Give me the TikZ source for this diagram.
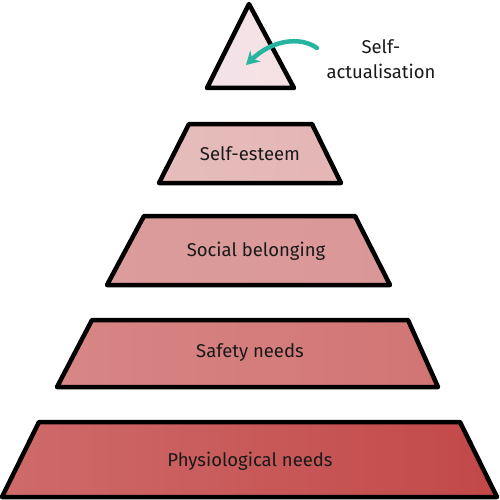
\documentclass[tikz,border=0pt]{standalone}
\usepackage{fontspec}
\setmainfont{Fira Sans}
\usetikzlibrary{arrows.meta}
\definecolor{tealarrow}{HTML}{27B59F}
\definecolor{c0a}{HTML}{F2E4EA}\definecolor{c0b}{HTML}{F8E8EA}\definecolor{c0c}{HTML}{F6E0E2}
\definecolor{c1a}{HTML}{E6BDBC}\definecolor{c1b}{HTML}{ECC8C6}\definecolor{c1c}{HTML}{E4B6B5}
\definecolor{c2a}{HTML}{DC9C9C}\definecolor{c2b}{HTML}{E4ABAA}\definecolor{c2c}{HTML}{DA9797}
\definecolor{c3a}{HTML}{D88686}\definecolor{c3b}{HTML}{DC8E8E}\definecolor{c3c}{HTML}{D27474}
\definecolor{c4a}{HTML}{CF6B6B}\definecolor{c4b}{HTML}{D77A7A}\definecolor{c4c}{HTML}{C24848}
\tikzset{
  level/.style={draw=black, line width=4.5pt, line join=round},
  lbl/.style={font=\fontsize{18.5}{25}\selectfont, text=black!90, inner sep=0pt},
}
\begin{document}
\begin{tikzpicture}[x=1pt,y=-1pt]
\useasboundingbox (0,0) rectangle (500,500);
\path[level, left color=c0a, middle color=c0b, right color=c0c] (249,4) -- (294,88) -- (207,88) -- cycle;
\path[level, left color=c1a, middle color=c1b, right color=c1c] (189,124) -- (312,124) -- (341,183) -- (159,183) -- cycle;
\path[level, left color=c2a, middle color=c2b, right color=c2c] (144,216) -- (355,216) -- (390,285) -- (107,285) -- cycle;
\path[level, left color=c3a, middle color=c3b, right color=c3c] (92,320) -- (408,320) -- (438,387) -- (57,387) -- cycle;
\path[level, left color=c4a, middle color=c4b, right color=c4c] (39,422) -- (460,422) -- (497,497) -- (2,497) -- cycle;
\node[lbl] (se) at (250,154) {Self-esteem};
\node[lbl] (sb) at (256,251) {Social belonging};
\node[lbl] (sn) at (250,353) {Safety needs};
\node[lbl] (pn) at (250,461) {Physiological needs};
\node[lbl, align=center] (sa) at (381,59) {Self-\\actualisation};
\coordinate (tip) at (246,65);
\coordinate (tail) at (317,48);
\draw[tealarrow, line width=4.5pt, line cap=round, -{Stealth[length=13pt,width=15pt]}] (tail) .. controls (300,36) and (272,40) .. (tip);
\end{tikzpicture}
\end{document}
